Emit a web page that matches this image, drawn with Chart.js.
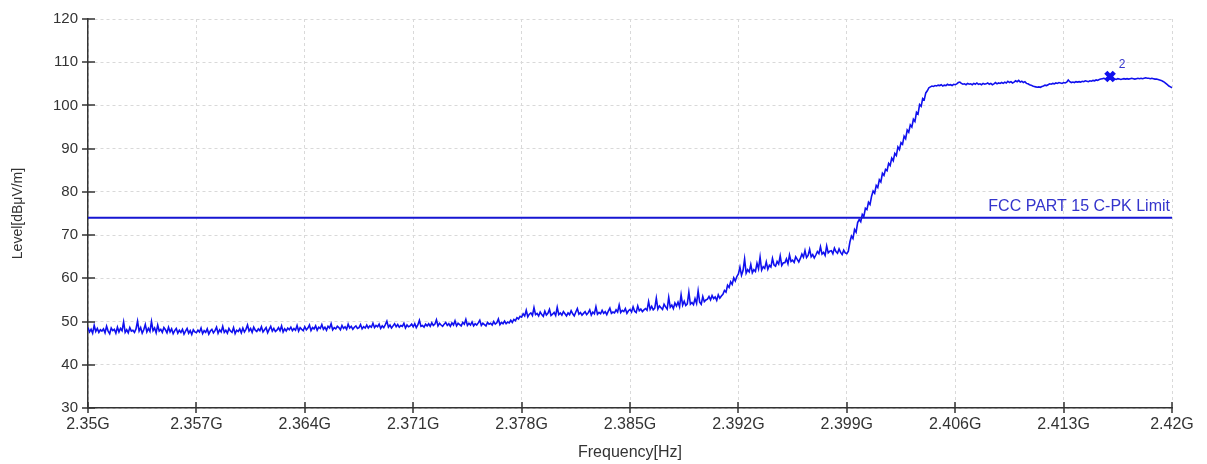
<!DOCTYPE html>
<html>
<head>
<meta charset="utf-8">
<script src="https://cdn.jsdelivr.net/npm/chart.js@4.4.1/dist/chart.umd.min.js"></script>
<style>
  html, body { margin: 0; padding: 0; background: #fff; }
  #wrap { width: 1207px; height: 464px; }
</style>
</head>
<body>
<div id="wrap"><canvas id="c" width="1207" height="464"></canvas></div>
<script>
// Sweep grid of the analyzer trace (MHz)
const freqStartMHz = 2350;
const freqStepMHz = 0.1;

// Measured peak level, one reading per sweep step (dBuV/m); one row per MHz
const levels = [
  48.6, 47.6, 48.2, 47.3, 49.1, 47.7, 48.4, 47.5, 48.1, 47.8,
  48.3, 47.4, 48.9, 47.8, 47.2, 48.5, 47.9, 48.2, 47.3, 48.7,
  47.6, 48.4, 47.9, 49.9, 47.5, 48.1, 47.4, 48.6, 47.8, 48.0,
  47.5, 48.3, 50.1, 47.8, 48.6, 47.3, 48.1, 49.3, 47.6, 48.4,
  47.7, 50.0, 47.9, 48.5, 47.4, 49.2, 47.8, 48.2, 47.5, 48.6,
  48.1, 47.4, 48.7, 47.6, 48.3, 47.2, 47.9, 48.4, 47.3, 48.0,
  47.5, 48.2, 47.1, 47.8, 48.4, 47.3, 47.9, 47.0, 48.1, 47.6,
  47.4, 48.0, 47.6, 48.5, 47.2, 47.9, 47.5, 48.3, 47.1, 47.8,
  48.2, 47.4, 47.9, 48.7, 47.3, 48.1, 47.6, 48.9, 47.5, 48.0,
  47.3, 48.4, 47.8, 47.5, 48.6, 47.2, 48.0, 47.7, 48.3, 47.4,
  48.5, 47.6, 48.2, 49.2, 47.8, 48.4, 47.5, 48.7, 48.0, 47.7,
  48.3, 47.9, 48.8, 47.6, 48.1, 48.6, 47.4, 48.2, 48.9, 47.8,
  48.4, 47.7, 48.0, 48.6, 47.9, 49.0, 47.6, 48.3, 47.8, 48.5,
  48.1, 48.7, 47.9, 48.4, 48.0, 49.1, 47.8, 48.6, 48.2, 47.9,
  48.8, 48.1, 48.5, 49.2, 47.9, 48.6, 48.3, 49.0, 48.0, 48.7,
  48.4, 49.3, 48.2, 48.7, 48.0, 48.9, 48.5, 49.5, 48.1, 48.6,
  48.3, 48.9, 48.6, 48.1, 49.1, 48.4, 48.8, 48.2, 49.4, 48.5,
  48.9, 48.2, 48.7, 49.0, 48.4, 48.6, 49.3, 48.3, 48.8, 48.5,
  49.2, 48.5, 49.0, 48.7, 49.6, 48.6, 49.1, 48.8, 49.4, 48.4,
  49.0, 48.6, 49.3, 50.1, 48.7, 49.2, 48.5, 49.0, 49.5, 48.8,
  49.3, 48.7, 49.1, 48.9, 49.6, 48.5, 49.2, 48.8, 49.0, 49.4,
  48.8, 49.5, 48.6, 49.2, 50.3, 48.9, 49.1, 48.7, 49.4, 49.0,
  49.5, 48.9, 49.7, 49.1, 49.4, 50.4, 49.0, 49.6, 49.2, 48.9,
  49.4, 49.8, 49.1, 49.5, 48.9, 49.7, 49.2, 50.2, 49.0, 49.6,
  49.3, 49.0, 49.8, 49.4, 50.5, 49.1, 49.6, 49.2, 49.9, 49.0,
  49.5, 49.2, 49.7, 50.3, 49.1, 49.6, 49.3, 49.0, 49.8, 49.4,
  49.6, 49.2, 50.0, 49.4, 49.7, 50.6, 49.3, 49.8, 49.5, 50.1,
  49.5, 49.9, 49.7, 50.3, 49.8, 50.5, 50.2, 50.9, 50.6, 51.2,
  51.0, 51.8, 51.3, 52.6, 51.1, 51.7, 52.0, 51.4, 53.2, 51.6,
  51.9, 51.3, 52.2, 51.6, 51.2, 52.4, 51.5, 51.9, 52.8, 51.4,
  51.7, 52.1, 51.4, 53.3, 51.6, 52.0, 51.5, 52.3, 51.8, 51.3,
  52.0, 51.6, 52.5, 51.8, 51.3, 52.2, 53.0, 51.7, 52.1, 51.5,
  51.9, 52.3, 51.6, 52.0, 52.7, 51.5, 52.2, 51.8, 53.4, 51.7,
  52.1, 51.8, 52.6, 51.9, 52.3, 51.6, 52.4, 53.1, 51.9, 52.2,
  52.0, 52.7, 52.2, 53.8, 52.1, 52.6, 52.3, 53.0, 51.9, 52.5,
  52.8, 52.2, 53.4, 52.4, 52.1, 53.6, 52.5, 52.9, 52.3, 52.7,
  53.0, 52.6, 54.6, 52.8, 53.5, 52.7, 53.1, 55.4, 52.9, 53.6,
  53.2, 52.8, 54.0, 53.4, 52.9, 55.6, 53.3, 53.8, 53.0, 54.3,
  53.6, 54.5, 53.4, 56.2, 53.8, 54.7, 53.7, 54.1, 56.8, 54.0,
  54.4, 53.9, 55.3, 54.2, 57.1, 54.5, 54.0, 55.8, 54.6, 55.0,
  55.2, 55.8, 55.0, 56.0, 55.3, 55.7, 54.9, 56.2, 55.4, 55.9,
  56.3, 57.2, 56.8, 58.4, 57.9, 59.2, 58.6, 60.1, 59.4, 60.4,
  61.0, 62.6, 60.7, 61.8, 64.5, 61.2, 62.0, 61.5, 63.2, 61.3,
  62.0, 61.6, 63.5, 62.2, 64.9, 61.9, 62.7, 62.3, 63.8, 62.1,
  63.0, 62.6, 64.6, 63.1, 62.8, 63.9, 63.3, 65.2, 63.0, 63.6,
  63.6, 64.5, 63.4, 65.4, 63.9, 64.2, 63.7, 65.0, 64.4, 63.8,
  64.6, 65.6, 64.9, 66.4, 64.8, 65.3, 66.7, 65.0, 65.5, 64.7,
  65.4, 66.2, 65.7, 67.3, 65.6, 66.0, 65.3, 67.5, 65.9, 66.3,
  66.4, 65.7, 67.0, 66.2, 65.8, 66.8, 66.0, 65.5, 66.5, 65.9,
  65.7, 66.3, 68.4, 69.8, 69.2, 71.3, 70.7, 72.9, 73.6, 73.1,
  74.8, 74.3, 76.2, 75.9, 77.6, 77.1, 79.0, 80.2, 79.7, 81.5,
  81.0, 82.8, 82.3, 84.3, 83.8, 85.2, 84.9, 86.6, 86.1, 87.8,
  87.2, 88.9, 88.4, 90.4, 89.8, 91.4, 91.0, 92.9, 92.3, 94.3,
  93.8, 95.5, 95.0, 96.8, 96.3, 98.4, 98.0, 100.2, 99.8, 101.6,
  101.3, 102.9, 103.4, 104.1, 104.3, 104.5, 104.4, 104.6, 104.5, 104.7,
  104.6, 104.8, 104.5, 104.7, 104.6, 104.9, 104.7, 104.8, 104.6, 104.9,
  104.8, 105.0, 105.3, 105.4, 105.1, 104.9, 105.0, 104.8, 105.1, 104.9,
  105.0, 104.8, 105.1, 104.9, 105.2, 104.9, 105.0, 104.8, 105.1, 104.9,
  105.0, 105.2, 104.9, 105.1, 104.8, 105.0, 105.3, 105.0, 105.2, 105.1,
  105.3, 105.1, 105.4, 105.2, 105.6, 105.3, 105.5, 105.2, 105.4, 105.7,
  105.5, 105.8, 105.4, 105.6, 105.3, 105.5, 105.1, 105.0, 104.8, 104.7,
  104.5, 104.4, 104.3, 104.2, 104.3, 104.2, 104.4, 104.5, 104.7, 104.6,
  104.8, 105.0, 104.9, 105.1, 105.0, 105.2, 105.1, 105.3, 105.2, 105.1,
  105.3, 105.2, 105.4, 105.9, 105.5, 105.3, 105.4, 105.3, 105.5, 105.4,
  105.5, 105.4, 105.6, 105.5, 105.7, 105.6, 105.5, 105.7, 105.6, 105.8,
  105.7, 105.9, 105.8, 106.0, 106.1, 106.2, 106.3, 106.2, 106.1, 106.0,
  106.1, 106.0, 106.2, 106.1, 106.0, 106.2, 106.1, 106.0, 106.1, 106.2,
  106.1, 106.2, 106.1, 106.2, 106.3, 106.2, 106.1, 106.2, 106.3, 106.2,
  106.3, 106.2, 106.3, 106.4, 106.3, 106.3, 106.2, 106.3, 106.2, 106.1,
  106.1, 106.0, 105.9, 105.8, 105.6, 105.4, 105.1, 104.8, 104.5, 104.3,
  104.1
];

// Limit line
const limitLevel = 74;
const limitName = 'FCC PART 15 C-PK Limit';

// Peak marker
const markerFreqMHz = 2416.0;
const markerLevel = 106.7;
const markerName = '2';

// Axes
const xTickValues = [2350, 2357, 2364, 2371, 2378, 2385, 2392, 2399, 2406, 2413, 2420];
const xTickLabels = ['2.35G', '2.357G', '2.364G', '2.371G', '2.378G', '2.385G', '2.392G', '2.399G', '2.406G', '2.413G', '2.42G'];
const yMin = 30, yMax = 120, yStep = 10;
const xTitle = 'Frequency[Hz]';
const yTitle = 'Level[dB\u03BCV/m]';

const FONT = '"Liberation Sans", Arial, Helvetica, sans-serif';
const TRACE_COLOR = '#1010ee';
const LIMIT_COLOR = '#1616d2';
const LABEL_COLOR = '#3434cc';
const AXIS_COLOR = '#333333';

const tracePoints = levels.map((v, i) => ({ x: freqStartMHz + i * freqStepMHz, y: v }));
const limitPoints = [
  { x: xTickValues[0], y: limitLevel },
  { x: xTickValues[xTickValues.length - 1], y: limitLevel }
];

const decorations = {
  id: 'decorations',
  afterDatasetsDraw(chart) {
    const { ctx, chartArea: a, scales: { x, y } } = chart;
    ctx.save();
    // tick marks crossing the axes
    ctx.strokeStyle = AXIS_COLOR;
    ctx.lineWidth = 1.5;
    ctx.beginPath();
    y.ticks.forEach(t => {
      const py = Math.round(y.getPixelForValue(t.value));
      ctx.moveTo(a.left - 6, py);
      ctx.lineTo(a.left + 7, py);
    });
    x.ticks.forEach(t => {
      const px = Math.round(x.getPixelForValue(t.value));
      ctx.moveTo(px, a.bottom - 6);
      ctx.lineTo(px, a.bottom + 5);
    });
    ctx.stroke();

    // limit caption
    ctx.fillStyle = LABEL_COLOR;
    ctx.font = '16px ' + FONT;
    ctx.textAlign = 'right';
    ctx.textBaseline = 'alphabetic';
    ctx.fillText(limitName, a.right - 2, y.getPixelForValue(limitLevel) - 7);

    // marker number
    ctx.font = '12px ' + FONT;
    ctx.textAlign = 'center';
    ctx.textBaseline = 'middle';
    ctx.fillText(markerName, x.getPixelForValue(markerFreqMHz) + 12, y.getPixelForValue(markerLevel) - 12);
    ctx.restore();
  }
};

new Chart(document.getElementById('c'), {
  type: 'line',
  data: {
    datasets: [
      {
        label: 'Trace',
        data: tracePoints,
        borderColor: TRACE_COLOR,
        borderWidth: 1.6,
        pointRadius: 0,
        tension: 0,
        fill: false,
        order: 2
      },
      {
        label: limitName,
        data: limitPoints,
        borderColor: LIMIT_COLOR,
        borderWidth: 2,
        pointRadius: 0,
        fill: false,
        order: 1
      },
      {
        label: 'Marker ' + markerName,
        data: [{ x: markerFreqMHz, y: markerLevel }],
        showLine: false,
        pointStyle: 'crossRot',
        pointRadius: 6,
        pointBorderWidth: 4.5,
        pointBorderColor: TRACE_COLOR,
        borderColor: TRACE_COLOR,
        order: 0
      }
    ]
  },
  options: {
    responsive: false,
    animation: false,
    devicePixelRatio: 1,
    layout: { padding: { top: 16, right: 35, bottom: 0, left: 0 } },
    plugins: {
      legend: { display: false },
      tooltip: { enabled: false }
    },
    scales: {
      x: {
        type: 'linear',
        min: xTickValues[0],
        max: xTickValues[xTickValues.length - 1],
        afterBuildTicks: s => { s.ticks = xTickValues.map(v => ({ value: v })); },
        afterFit: s => { s.height = 56; },
        grid: { color: '#d9d9d9', lineWidth: 1, drawTicks: false },
        border: { display: true, color: AXIS_COLOR, width: 1.5, dash: [3, 3] },
        ticks: {
          autoSkip: false,
          maxRotation: 0,
          padding: 7,
          color: '#333',
          font: { family: FONT, size: 16 },
          callback: (v, i) => xTickLabels[i]
        },
        title: {
          display: true,
          text: xTitle,
          color: '#333',
          font: { family: FONT, size: 16 },
          padding: { top: 0, bottom: 2 }
        }
      },
      y: {
        type: 'linear',
        min: yMin,
        max: yMax,
        afterFit: s => { s.width = 88; },
        grid: { color: '#d9d9d9', lineWidth: 1, drawTicks: false },
        border: { display: true, color: AXIS_COLOR, width: 1.5, dash: [3, 3] },
        ticks: {
          stepSize: yStep,
          padding: 10,
          color: '#333',
          font: { family: FONT, size: 15 }
        },
        title: {
          display: true,
          text: yTitle,
          color: '#333',
          font: { family: FONT, size: 14 },
          padding: { top: 10, bottom: 0 }
        }
      }
    }
  },
  plugins: [decorations]
});
</script>
</body>
</html>
